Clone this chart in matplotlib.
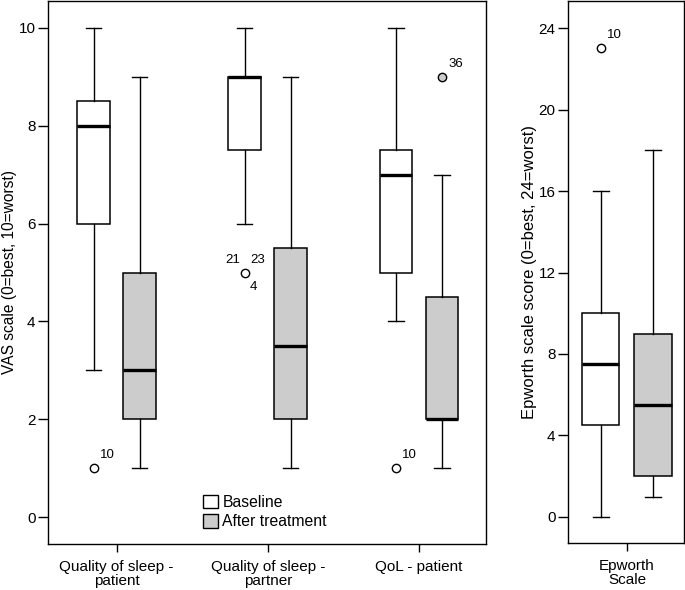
import matplotlib
matplotlib.use('Agg')
import matplotlib.pyplot as plt
from matplotlib.patches import Patch

plt.rcParams['font.family'] = ['Liberation Sans', 'DejaVu Sans']

# ---------------- data ----------------
categories = ['Quality of sleep -\npatient', 'Quality of sleep -\npartner', 'QoL - patient']
series_names = ['Baseline', 'After treatment']

vas_base_q1 = [6.0, 7.5, 5.0]
vas_base_med = [8.0, 9.0, 7.0]
vas_base_q3 = [8.5, 9.0, 7.5]
vas_base_lo = [3.0, 6.0, 4.0]
vas_base_hi = [10.0, 10.0, 10.0]
vas_base_out = [[1.0], [5.0], [1.0]]
vas_base_out_ids = [[['10']], [['21', '23', '4']], [['10']]]

vas_after_q1 = [2.0, 2.0, 2.0]
vas_after_med = [3.0, 3.5, 2.0]
vas_after_q3 = [5.0, 5.5, 4.5]
vas_after_lo = [1.0, 1.0, 1.0]
vas_after_hi = [9.0, 9.0, 7.0]
vas_after_out = [[], [], [9.0]]
vas_after_out_ids = [[], [], [['36']]]

ep_category = ['Epworth\nScale']
ep_base = dict(q1=4.5, med=7.5, q3=10.0, lo=0.0, hi=16.0, out=[23.0], ids=[['10']])
ep_after = dict(q1=2.0, med=5.5, q3=9.0, lo=1.0, hi=18.0, out=[], ids=[])

vas_ticks = [0, 2, 4, 6, 8, 10]
ep_ticks = [0, 4, 8, 12, 16, 20, 24]

# ---------------- style ----------------
BASE_COLOR = 'white'
AFTER_COLOR = '#cccccc'
PX = 72.0 / 100.0  # pixels -> points
FS = 11

fig = plt.figure(figsize=(6.85, 5.90), dpi=100)
ax1 = fig.add_axes([48/685, 46/590, 438/685, 543/590])
ax2 = fig.add_axes([568/685, 47/590, 116/685, 542/590])


def stat(q1, med, q3, lo, hi, out):
    return dict(q1=q1, med=med, q3=q3, whislo=lo, whishi=hi, fliers=list(out))


def draw(ax, stats, positions, width, capw, color):
    ax.bxp(stats, positions=positions, widths=width, capwidths=capw,
           patch_artist=True, showfliers=True,
           boxprops=dict(facecolor=color, edgecolor='black', linewidth=1.1),
           medianprops=dict(color='black', linewidth=2.4, solid_capstyle='butt'),
           whiskerprops=dict(color='black', linewidth=1.0),
           capprops=dict(color='black', linewidth=1.0),
           flierprops=dict(marker='o', markerfacecolor=color, markeredgecolor='black',
                           markersize=6, markeredgewidth=1.0))


# label offsets (in pixels) for outlier id annotations
single_off = (6, 7, 'left', 'bottom')
multi_off = [(-5, 7, 'right', 'bottom'), (6, 7, 'left', 'bottom'), (5, -8, 'left', 'top')]


def annotate(ax, x, y, ids, fs=9.5):
    offs = [single_off] if len(ids) == 1 else multi_off
    for lab, (dx, dy, ha, va) in zip(ids, offs):
        ax.annotate(lab, (x, y), xytext=(dx * PX, dy * PX), textcoords='offset points',
                    ha=ha, va=va, fontsize=fs)


# ---- left panel ----
pos = [1, 2, 3]
off = 0.152
w = 0.218
capw = 0.10
base_stats = [stat(*v) for v in zip(vas_base_q1, vas_base_med, vas_base_q3,
                                    vas_base_lo, vas_base_hi, vas_base_out)]
after_stats = [stat(*v) for v in zip(vas_after_q1, vas_after_med, vas_after_q3,
                                     vas_after_lo, vas_after_hi, vas_after_out)]
draw(ax1, base_stats, [p - off for p in pos], w, capw, BASE_COLOR)
draw(ax1, after_stats, [p + off for p in pos], w, capw, AFTER_COLOR)

for i, p in enumerate(pos):
    for val, ids in zip(vas_base_out[i], vas_base_out_ids[i]):
        annotate(ax1, p - off, val, ids)
    for val, ids in zip(vas_after_out[i], vas_after_out_ids[i]):
        annotate(ax1, p + off, val, ids)

ax1.set_xlim(0.547, 3.443)
ax1.set_ylim(-0.55, 10.55)
ax1.set_xticks(pos)
ax1.set_xticklabels(categories, linespacing=1.0)
ax1.set_yticks(vas_ticks)
ax1.set_ylabel('VAS scale (0=best, 10=worst)', fontsize=11.2, labelpad=1)

leg = ax1.legend(handles=[Patch(facecolor=BASE_COLOR, edgecolor='black', linewidth=1.0),
                          Patch(facecolor=AFTER_COLOR, edgecolor='black', linewidth=1.0)],
                 labels=series_names, loc='center left',
                 bbox_to_anchor=((203 - 48) / 438, (544 - 512) / 543),
                 frameon=False, borderpad=0, borderaxespad=0,
                 handlelength=0.95, handleheight=0.95, handletextpad=0.28,
                 labelspacing=0.28, fontsize=11.3)

# ---- right panel ----
eoff = 0.172
ew = 0.245
ecapw = 0.112
draw(ax2, [stat(ep_base['q1'], ep_base['med'], ep_base['q3'], ep_base['lo'], ep_base['hi'], ep_base['out'])],
     [1 - eoff], ew, ecapw, BASE_COLOR)
draw(ax2, [stat(ep_after['q1'], ep_after['med'], ep_after['q3'], ep_after['lo'], ep_after['hi'], ep_after['out'])],
     [1 + eoff], ew, ecapw, AFTER_COLOR)
for val, ids in zip(ep_base['out'], ep_base['ids']):
    annotate(ax2, 1 - eoff, val, ids)

ax2.set_xlim(1 - 0.39, 1 + 0.377)
ax2.set_ylim(-1.28, 25.33)
ax2.set_xticks([1])
ax2.set_xticklabels(ep_category, linespacing=1.0)
ax2.set_yticks(ep_ticks)
ax2.set_ylabel('Epworth scale score (0=best, 24=worst)', fontsize=12, labelpad=1)

for ax in (ax1, ax2):
    for s in ax.spines.values():
        s.set_linewidth(1.0)
    ax.tick_params(axis='y', direction='out', length=7, width=1.0, labelsize=FS, pad=2)
    ax.tick_params(axis='x', direction='out', length=6, width=1.0, labelsize=FS, pad=5.5)

fig.savefig('out.png', dpi=100)
